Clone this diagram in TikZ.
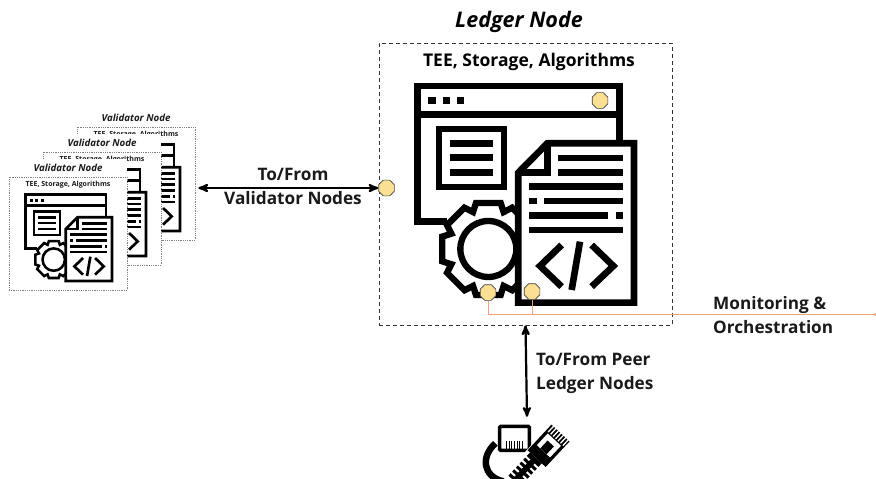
\documentclass[tikz,border=0pt]{standalone}
\usepackage{fontspec}
\setmainfont{Open Sans}
\usepackage{xcolor}
\usetikzlibrary{shapes.geometric,arrows,positioning}
\tikzset{>=stealth'}

\definecolor{portyellow}{HTML}{FBDF92}
\definecolor{monorange}{HTML}{F2A07B}
\definecolor{txtdark}{HTML}{1A1A1A}

% the window, gear and code page, with its corner at (#1,#2), size #3
\newcommand{\ledgericon}[3]{
\begin{scope}[shift={(#1,#2)},scale=#3]
\def\iconsc{#3}
\draw[iconline,miter limit=4] (140,455) -- (52,455) -- (52,48) -- (658,48) -- (658,215);
\draw[iconline] (52,133) -- (658,133);
\foreach \u in {85,128,170} {
  \fill[black] (\u,80) rectangle ++(22,22);
}
\draw[iconline,line width=#3*18pt] (116,177) rectangle (313,351);
\foreach \v in {220,263,307} {
  \draw[iconline] (150,\v) -- (280,\v);
}
% gear
\begin{scope}[shift={(265,537)}]
\draw[iconline,line width=#3*19pt,fill=white] (-22.5:120) \foreach \a in {0,45,...,315} {
  -- (\a-15:143) -- (\a+15:143) -- (\a+22.5:120)
} -- cycle;
\draw[iconline,line width=#3*19pt] (0,0) circle (84);
\end{scope}
% page
\draw[iconline,fill=white] (355,308) -- (442,220) -- (702,220) -- (702,698) -- (355,698) -- cycle;
\draw[iconline] (442,220) -- (442,308) -- (355,308);
\foreach \s/\e/\v in {475/668/264, 475/668/307, 388/668/350, 388/410/393, 432/668/393, 388/625/437, 647/668/437, 388/668/480} {
  \draw[iconline] (\s,\v) -- (\e,\v);
}
\draw[iconline] (485,525) -- (420,588) -- (485,650);
\draw[iconline] (540,515) -- (515,660);
\draw[iconline] (575,525) -- (640,588) -- (575,650);
\end{scope}
}

\begin{document}
\begin{tikzpicture}[x=1pt,y=-1pt,
                    iconline/.style={line width=\iconsc*20pt, black},
                    valbox/.style={draw=gray, densely dotted, line width=.8pt, fill=white, inner sep=0pt, minimum width=118pt, minimum height=113pt},
                    vallabel/.style={fill=white, inner sep=0pt, minimum width=118pt, minimum height=18pt, text=txtdark, font=\fontsize{9.7}{11}\selectfont\bfseries\itshape},
                    valtitle/.style={inner sep=0pt, text=txtdark, font=\fontsize{7}{8}\selectfont\bfseries},
                    ledgerbox/.style={draw=black!80, dash pattern=on 4pt off 3pt, line width=.8pt, inner sep=0pt, minimum width=293pt, minimum height=282pt},
                    port/.style={regular polygon, regular polygon sides=8, draw=black!75, line width=.7pt, fill=portyellow, inner sep=0pt, minimum size=17pt},
                    linktext/.style={inner sep=0pt, text=txtdark, align=left, font=\fontsize{17.2}{23.5}\selectfont\bfseries},
                    link/.style={line width=2.2pt, black, <->},
                    monline/.style={line width=.9pt, monorange},
                   ]

\useasboundingbox (0,0) rectangle (876,479);

% validator stack, back to front
\foreach \x/\y/\n in {68/-50/back, 34/-25/mid, 0/0/front} {
  \node[valbox] (val\n) at (68+\x,233.5+\y) {};
  \node[vallabel] (vallabel\n) at (68+\x,168+\y) {Validator Node};
  \node[valtitle] (valtitle\n) at (68+\x,184.5+\y) {TEE, Storage, Algorithms};
  \ledgericon{18.4+\x}{188+\y}{0.1333}
}

% ledger node
\node[ledgerbox] (ledger) at (525.5,184) {};
\node[text=black, font=\fontsize{21.5}{25}\selectfont\bfseries\itshape] (ledgerlabel) at (519,22) {Ledger Node};
\node[text=black, font=\fontsize{17.5}{20}\selectfont\bfseries] (ledgertitle) at (529,62) {TEE, Storage, Algorithms};
\ledgericon{400}{70}{0.3333}

% ports
\node[port] (portleft) at (386.5,188) {};
\node[port] (porttop) at (600,100.5) {};
\node[port] (portgear) at (488,292.5) {};
\node[port] (portpage) at (532,291.5) {};

% cable
\node[inner sep=0pt, minimum width=84pt, minimum height=62pt] (cable) at (527,448) {};
\begin{scope}[shift={(470,280)},scale=.3333]
\def\iconsc{.3333}
\draw[line width=6.5pt, black] (76,490) .. controls (32,530) and (38,590) .. (100,604);
\draw[iconline,line width=3.4pt, rounded corners=1pt] (89,439) rectangle (178,511);
\fill[white] (100,478) -- (100,462) -- (115,462) -- (115,448) -- (152,448) -- (152,462) -- (167,462) -- (167,478) -- cycle;
\foreach \u in {109,117,125,133,141,149,157} {
  \draw[black, line width=.9pt] (\u,484) -- (\u,506);
}
\begin{scope}[shift={(150,585)},rotate=47]
\fill[white] (-25,-36) rectangle (100,36);
\fill[black] (-25,-24) rectangle (70,24);
\foreach \u in {-15,1,17,33,49} {
  \fill[white] (\u,-26) rectangle ++(6,17);
  \fill[white] (\u,9) rectangle ++(6,17);
}
\fill[black] (70,-34) rectangle (175,40);
\fill[white] (100,-24) rectangle (148,30);
\fill[black] (100,-10) rectangle (132,16);
\foreach \v in {-28,-18,-8,2,12,22,32} {
  \fill[white] (152,\v) rectangle ++(30,4);
}
\end{scope}
\end{scope}

% connectors
\coordinate (monend) at (875,314.5);
\draw[link] ([xshift=3pt]valback.east |- portleft.west) -- (portleft.west);
\draw[link] (ledger.south) -- (cable.north);
\draw[monline] (portgear.south) |- (monend);
\draw[monline] (portpage.south) -- (portpage.south |- monend);
\fill[monorange] (monend) circle (1.6pt);

% link labels
\node[linktext, align=center] (valtext) at (293,186.5) {To/From\\Validator Nodes};
\node[linktext, anchor=west] (peertext) at (536,373.5) {To/From Peer\\Ledger Nodes};
\node[linktext, anchor=west] (montext) at (713,315) {Monitoring \&\\Orchestration};

\end{tikzpicture}
\end{document}
